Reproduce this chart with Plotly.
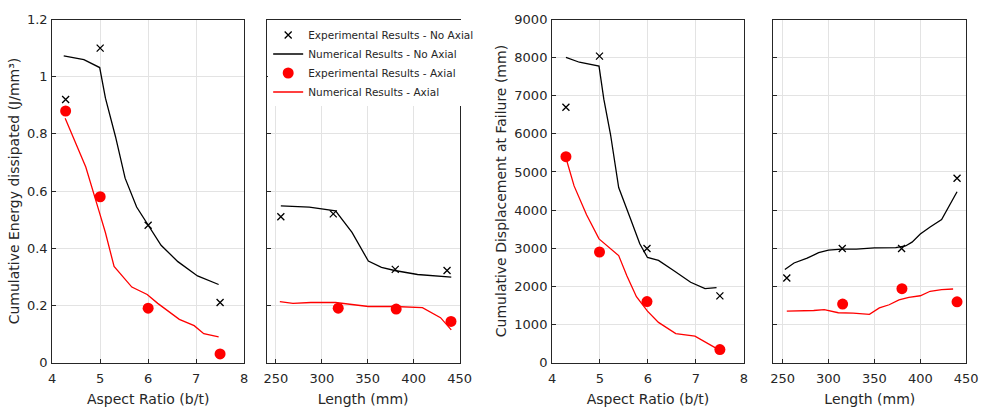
import plotly.graph_objects as go

# ---- Energy vs aspect ratio ----
ar_exp = [4.28, 5.0, 6.0, 7.5]
energy_exp_noaxial = [0.92, 1.10, 0.48, 0.21]
energy_exp_axial = [0.88, 0.58, 0.19, 0.03]

ar_num_noaxial = [4.24, 4.66, 4.99, 5.11, 5.32, 5.52, 5.76, 6.0, 6.27, 6.62, 7.03, 7.47]
energy_num_noaxial = [1.073, 1.06, 1.032, 0.925, 0.79, 0.645, 0.544, 0.482, 0.41, 0.353, 0.303, 0.273]
ar_num_axial = [4.27, 4.70, 4.97, 5.11, 5.29, 5.66, 5.98, 6.2, 6.65, 6.96, 7.16, 7.47]
energy_num_axial = [0.855, 0.684, 0.533, 0.454, 0.336, 0.264, 0.238, 0.207, 0.151, 0.129, 0.101, 0.09]

# ---- Energy vs length ----
len_exp_noaxial = [255.4, 312.5, 380.0, 436.4]
energy_len_exp_noaxial = [0.51, 0.52, 0.326, 0.322]
len_exp_axial = [317.9, 381.0, 440.7]
energy_len_exp_axial = [0.19, 0.187, 0.144]

len_num_noaxial = [255.4, 286.4, 315.0, 332.9, 350.7, 365.0, 379.3, 404.3, 441.0]
energy_len_num_noaxial = [0.548, 0.544, 0.531, 0.455, 0.355, 0.333, 0.322, 0.308, 0.299]
len_num_axial = [254.3, 268.6, 288.0, 315.0, 350.7, 379.3, 409.6, 429.3, 441.0]
energy_len_num_axial = [0.213, 0.207, 0.21, 0.21, 0.196, 0.196, 0.192, 0.157, 0.114]

# ---- Displacement vs aspect ratio ----
ar_exp_d = [4.29, 4.99, 5.98, 7.5]
disp_exp_noaxial = [6700, 8040, 2990, 1750]
disp_exp_axial = [5400, 2900, 1600, 340]

ar_num_d_noaxial = [4.29, 4.57, 4.98, 5.08, 5.22, 5.39, 5.63, 5.83, 5.99, 6.22, 6.55, 6.89, 7.19, 7.43]
disp_num_noaxial = [8005, 7879, 7778, 6910, 5983, 4593, 3792, 3118, 2756, 2680, 2402, 2107, 1938, 1963]
ar_num_d_axial = [4.3, 4.46, 4.72, 4.98, 5.39, 5.56, 5.76, 5.99, 6.22, 6.58, 6.98, 7.5]
disp_num_axial = [5326, 4635, 3876, 3244, 2806, 2275, 1728, 1348, 1053, 758, 691, 320]

# ---- Displacement vs length ----
len_exp_d_noaxial = [254.6, 315.0, 379.6, 440.0]
disp_len_exp_noaxial = [2216, 2991, 2991, 4836]
len_exp_d_axial = [315.4, 380.0, 440.0]
disp_len_exp_axial = [1533, 1938, 1592]

len_num_d_noaxial = [252.5, 262.5, 276.8, 289.3, 300.0, 314.3, 330.4, 350.0, 373.2, 383.9, 391.0, 400.0, 410.7, 423.2, 440.0]
disp_len_num_noaxial = [2443, 2612, 2738, 2881, 2949, 2974, 2974, 3008, 3016, 3058, 3159, 3370, 3555, 3749, 4482]
len_num_d_axial = [254.6, 269.6, 283.9, 295.4, 310.7, 326.8, 344.6, 355.4, 366.1, 376.8, 387.5, 400.0, 410.7, 423.2, 435.7]
disp_len_num_axial = [1348, 1348, 1365, 1390, 1306, 1297, 1264, 1432, 1516, 1643, 1710, 1752, 1870, 1912, 1929]

BLACK = "#000000"
RED = "#ff0000"
AXIS = "#262626"
GRID = "#e3e3e3"
FONT = "DejaVu Sans"

fig = go.Figure()


def add_panel(xa, ya, xe1, ye1, xn1, yn1, xe2, ye2, xn2, yn2, legend):
    fig.add_trace(go.Scatter(x=xe1, y=ye1, mode="markers", xaxis=xa, yaxis=ya,
                             name="Experimental Results - No Axial", showlegend=legend,
                             marker=dict(symbol="x-thin-open", size=7, color=BLACK,
                                         line=dict(width=1.3, color=BLACK))))
    fig.add_trace(go.Scatter(x=xn1, y=yn1, mode="lines", xaxis=xa, yaxis=ya,
                             name="Numerical Results - No Axial", showlegend=legend,
                             line=dict(color=BLACK, width=1.3)))
    fig.add_trace(go.Scatter(x=xe2, y=ye2, mode="markers", xaxis=xa, yaxis=ya,
                             name="Experimental Results - Axial", showlegend=legend,
                             marker=dict(symbol="circle", size=11, color=RED)))
    fig.add_trace(go.Scatter(x=xn2, y=yn2, mode="lines", xaxis=xa, yaxis=ya,
                             name="Numerical Results - Axial", showlegend=legend,
                             line=dict(color=RED, width=1.3)))


add_panel("x", "y", ar_exp, energy_exp_noaxial, ar_num_noaxial, energy_num_noaxial,
          ar_exp, energy_exp_axial, ar_num_axial, energy_num_axial, False)
add_panel("x2", "y2", len_exp_noaxial, energy_len_exp_noaxial, len_num_noaxial, energy_len_num_noaxial,
          len_exp_axial, energy_len_exp_axial, len_num_axial, energy_len_num_axial, True)
add_panel("x3", "y3", ar_exp_d, disp_exp_noaxial, ar_num_d_noaxial, disp_num_noaxial,
          ar_exp_d, disp_exp_axial, ar_num_d_axial, disp_num_axial, False)
add_panel("x4", "y4", len_exp_d_noaxial, disp_len_exp_noaxial, len_num_d_noaxial, disp_len_num_noaxial,
          len_exp_d_axial, disp_len_exp_axial, len_num_d_axial, disp_len_num_axial, False)

W, H = 992, 411
top, bottom = 1 - 13 / H, 1 - 369 / H

common = dict(showline=True, linecolor=AXIS, linewidth=1, mirror=True,
              showgrid=True, gridcolor=GRID, gridwidth=1, zeroline=False,
              ticks="inside", ticklen=4, tickcolor=AXIS,
              tickfont=dict(family=FONT, size=13, color=AXIS))
xcommon = dict(common, ticklabelstandoff=4)
ycommon = dict(common, ticklabelstandoff=1)
title_font = dict(family=FONT, size=14, color=AXIS)

fig.update_layout(
    width=W, height=H,
    margin=dict(l=0, r=0, t=0, b=0),
    paper_bgcolor="white", plot_bgcolor="white",
    font=dict(family=FONT, color=AXIS),
    xaxis=dict(domain=[49 / W, 244 / W], range=[4, 8], dtick=1, anchor="y",
               title=dict(text="Aspect Ratio (b/t)", font=title_font, standoff=9), **xcommon),
    yaxis=dict(domain=[bottom, top], range=[0, 1.2], dtick=0.2, anchor="x",
               title=dict(text="Cumulative Energy dissipated (J/mm³)", font=title_font, standoff=4),
               **ycommon),
    xaxis2=dict(domain=[267 / W, 463 / W], range=[240, 450], dtick=50, anchor="y2",
                title=dict(text="Length (mm)", font=title_font, standoff=9), **xcommon),
    yaxis2=dict(domain=[bottom, top], range=[0, 1.2], dtick=0.2, anchor="x2",
                showticklabels=False, **ycommon),
    xaxis3=dict(domain=[557 / W, 752 / W], range=[4, 8], dtick=1, anchor="y3",
                title=dict(text="Aspect Ratio (b/t)", font=title_font, standoff=9), **xcommon),
    yaxis3=dict(domain=[bottom, top], range=[0, 9000], dtick=1000, tickformat="d", anchor="x3",
                title=dict(text="Cumulative Displacement at Failure (mm)", font=title_font, standoff=4),
                **ycommon),
    xaxis4=dict(domain=[782 / W, 978 / W], range=[240, 450], dtick=50, anchor="y4",
                title=dict(text="Length (mm)", font=title_font, standoff=9), **xcommon),
    yaxis4=dict(domain=[bottom, top], range=[0, 9000], dtick=1000, anchor="x4",
                showticklabels=False, **ycommon),
    legend=dict(x=268.5 / W, y=top - 1 / H, xanchor="left", yanchor="top",
                bgcolor="white", borderwidth=0,
                font=dict(family=FONT, size=10.5, color=AXIS),
                tracegroupgap=0, itemwidth=30),
)

fig.write_html("out.html")
